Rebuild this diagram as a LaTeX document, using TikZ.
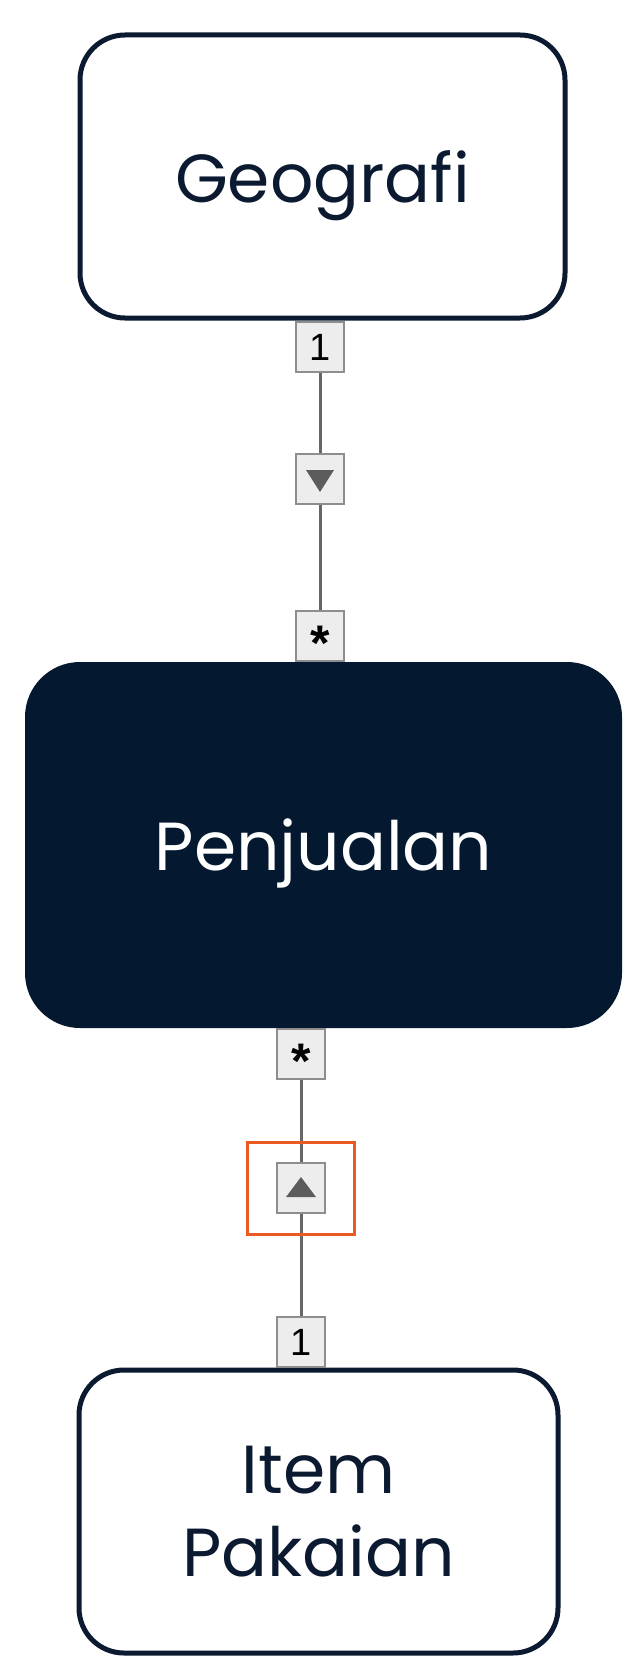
\documentclass[tikz,border=0pt]{standalone}
\usepackage{fontspec}
\setmainfont{Poppins}
\newfontfamily\markfont{Liberation Sans}
\definecolor{navy}{HTML}{0B1A31}
\definecolor{penfill}{HTML}{041830}
\definecolor{markgray}{HTML}{8E8E8E}
\definecolor{markfill}{HTML}{EDEDED}
\definecolor{linegray}{HTML}{666666}
\definecolor{trigray}{HTML}{5C5C5C}
\definecolor{hilite}{HTML}{EC5A24}
\tikzset{
  entity/.style={draw=navy, line width=5pt, rounded corners=45pt, text=navy,
    font=\fontsize{68}{83}\selectfont, align=center,
    minimum width=485pt, minimum height=283pt},
  mult/.style={draw=markgray, fill=markfill, line width=2pt, inner sep=0pt,
    minimum width=48pt, minimum height=50pt, font=\markfont\fontsize{38}{38}\selectfont},
  conn/.style={draw=linegray, line width=3pt},
}
\newcommand{\many}{\raisebox{-0.64em}[0pt][0pt]{\fontsize{50}{50}\selectfont\bfseries *}}
\begin{document}
\begin{tikzpicture}[x=1pt, y=-1pt]
    \useasboundingbox (0,0) rectangle (640,1680);
    %nodes
    \node[entity, text depth=0pt] at (322.5,176.5) (geo) {Geografi};
    \node[entity, draw=none, fill=penfill, text=white, rounded corners=55pt, text depth=0pt,
      minimum width=597pt, minimum height=366pt] at (323.5,845) (pen) {Penjualan};
    \node[entity, minimum width=479pt] at (318.5,1511.5) (item) {Item\\Pakaian};
    %multiplicities
    \node[mult] at (320,347) (geoone) {1};
    \node[mult] at (320,479) (geodir) {};
    \node[mult] at (320,636) (penmanytop) {\many};
    \node[mult] at (301,1054) (penmanybot) {\many};
    \node[mult] at (301,1188) (itemdir) {};
    \node[mult] at (301,1342) (itemone) {1};
    %lines
    \path[conn]
        (geoone) -- (geodir)
        (geodir) -- (penmanytop)
        (penmanybot) -- (itemdir)
        (itemdir) -- (itemone);
    %direction marks
    \fill[trigray] ([shift={(-14,-9)}]geodir.center) -- ++(28,0) -- ++(-14,22) -- cycle;
    \fill[trigray] ([shift={(-15,9)}]itemdir.center) -- ++(30,0) -- ++(-15,-20) -- cycle;
    \node[draw=hilite, line width=3pt, minimum width=107pt, minimum height=92pt] at (itemdir) (selected) {};
\end{tikzpicture}
\end{document}
